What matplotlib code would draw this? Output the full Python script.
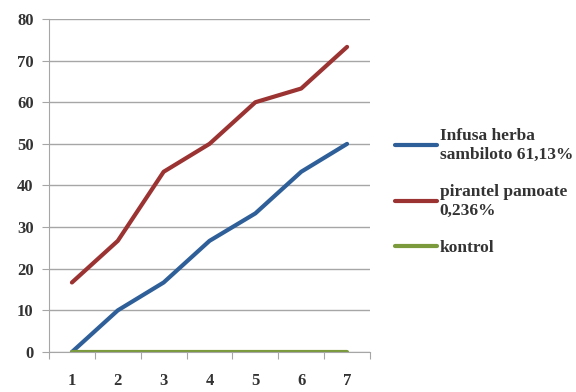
import numpy as np
import matplotlib.pyplot as plt

days = [1, 2, 3, 4, 5, 6, 7]
sambiloto = [0, 10, 16.7, 26.7, 33.3, 43.3, 50]
pirantel = [16.7, 26.7, 43.3, 50, 60, 63.3, 73.3]
kontrol = [0, 0, 0, 0, 0, 0, 0]
labels = ["Infusa herba\nsambiloto 61,13%", "pirantel pamoate\n0,236%", "kontrol"]
colors = ["#2F5F98", "#9B3332", "#7A9A3C"]

plt.rcParams['font.family'] = ['Liberation Serif', 'DejaVu Serif']

fig = plt.figure(figsize=(5.76, 3.92), dpi=100)
ax = fig.add_axes([49/576, 40/392, 321/576, 333/392])

x = np.arange(len(days))
for ys, lab, c in zip([sambiloto, pirantel, kontrol], labels, colors):
    ax.plot(x, ys, color=c, lw=3, label=lab,
            solid_capstyle='round', solid_joinstyle='round')

ax.set_xlim(-0.5, len(days) - 0.5)
ax.set_ylim(0, 80)
ax.set_yticks(range(0, 81, 10))
ax.grid(axis='y', color='#a6a6a6', lw=1)
ax.set_axisbelow(True)
for s in ['top', 'right']:
    ax.spines[s].set_visible(False)
ax.spines['left'].set_color('#a6a6a6')
ax.spines['bottom'].set_color('#a6a6a6')

# category ticks sit between the days, labels centred under each day
ax.set_xticks(np.arange(len(days) + 1) - 0.5)
ax.set_xticklabels([])
ax.set_xticks(x, minor=True)
ax.set_xticklabels([str(d) for d in days], minor=True)
ax.tick_params(axis='x', which='major', length=5, color='#a6a6a6')
ax.tick_params(axis='x', which='minor', length=0, pad=15, labelsize=12)
ax.tick_params(axis='y', length=5, color='#a6a6a6', labelsize=12, pad=6)
for t in ax.get_yticklabels() + ax.get_xticklabels(minor=True):
    t.set_fontweight('bold')
    t.set_color('#333333')

leg = ax.legend(loc='center left', bbox_to_anchor=(1.03, 0.48), frameon=False,
                handlelength=2.4, handletextpad=0.15, labelspacing=1.25,
                prop={'size': 12.5, 'weight': 'bold'})
for t in leg.get_texts():
    t.set_color('#333333')

fig.savefig("out.png", dpi=100)
